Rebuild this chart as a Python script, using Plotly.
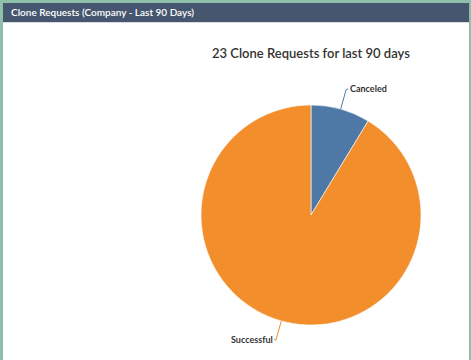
import math
import plotly.graph_objects as go

# Clone request outcomes over the last 90 days
labels = ["Canceled", "Successful"]
counts = [2, 21]
colors = ["#4e79a7", "#f28e2b"]
header_text = "Clone Requests (Company - Last 90 Days)"
chart_title = f"{sum(counts)} Clone Requests for last 90 days"

W, H = 471, 360


def px(x):
    return x / W


def py(y):
    return 1 - y / H


# pie placement (pixels)
cx, cy, r = 311, 215, 110

fig = go.Figure()
fig.add_trace(go.Pie(
    labels=labels,
    values=counts,
    sort=False,
    direction="clockwise",
    rotation=0,
    textinfo="none",
    hoverinfo="label+value+percent",
    marker=dict(colors=colors, line=dict(color="white", width=0.6)),
    domain=dict(x=[px(cx - r), px(cx + r)], y=[py(cy + r), py(cy - r)]),
    showlegend=False,
))

shapes = []
annotations = []

# panel frame and header bar
shapes.append(dict(type="rect", xref="paper", yref="paper",
                   x0=px(0), x1=px(W), y0=py(H + 5), y1=py(0),
                   line=dict(width=0), fillcolor="#8ebfa9", layer="below"))
shapes.append(dict(type="rect", xref="paper", yref="paper",
                   x0=px(3), x1=px(469), y0=py(H + 5), y1=py(3),
                   line=dict(width=0), fillcolor="white", layer="below"))
shapes.append(dict(type="rect", xref="paper", yref="paper",
                   x0=px(3), x1=px(469), y0=py(22), y1=py(3),
                   line=dict(width=0), fillcolor="#46566e", layer="below"))
shapes.append(dict(type="line", xref="paper", yref="paper",
                   x0=px(3), x1=px(469), y0=py(22.5), y1=py(22.5),
                   line=dict(width=1, color="#d9dde2"), layer="below"))

annotations.append(dict(text=header_text, xref="paper", yref="paper",
                        x=px(9), y=py(12.5), xanchor="left", yanchor="middle",
                        showarrow=False,
                        font=dict(family="Lato", size=10, color="white", weight=600)))
annotations.append(dict(text=chart_title, xref="paper", yref="paper",
                        x=px(cx), y=py(53), xanchor="center", yanchor="middle",
                        showarrow=False,
                        font=dict(family="Lato", size=13, color="#333333", weight=600)))

# connector lines and slice labels placed from each slice's mid angle
total = sum(counts)
start = 0.0
for lab, val, col in zip(labels, counts, colors):
    frac = val / total
    mid = (start + frac / 2) * 2 * math.pi
    start += frac
    sx, sy = math.sin(mid), -math.cos(mid)
    x0, y0 = cx + r * sx, cy + r * sy
    x1, y1 = cx + (r + 20) * sx, cy + (r + 20) * sy
    right = sx >= 0
    x2 = x1 + (2 if right else -2)
    shapes.append(dict(type="path", xref="paper", yref="paper",
                       path=f"M {px(x0)},{py(y0)} L {px(x1)},{py(y1)} L {px(x2)},{py(y1 - 1)}",
                       line=dict(color=col, width=1)))
    annotations.append(dict(text=lab, xref="paper", yref="paper",
                            x=px(x2 + (0 if right else 1)), y=py(y1 - 1),
                            xanchor="left" if right else "right", yanchor="middle",
                            showarrow=False,
                            font=dict(family="Lato", size=9, color="#333333", weight="bold")))

fig.update_layout(
    width=W, height=H,
    margin=dict(l=0, r=0, t=0, b=0),
    paper_bgcolor="white",
    plot_bgcolor="white",
    shapes=shapes,
    annotations=annotations,
)

fig.write_html("out.html", config={"displayModeBar": False})
